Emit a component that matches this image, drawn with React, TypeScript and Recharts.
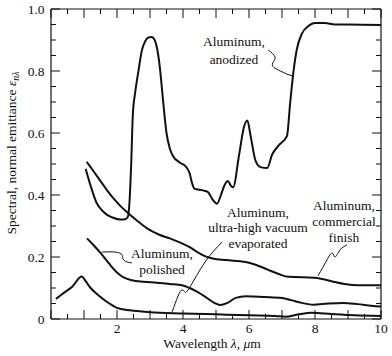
import { ComposedChart, Scatter, XAxis, YAxis } from "recharts";

type Pt = { x: number; y: number };
const pts = (rows: number[][]): Pt[] => rows.map(([x, y]) => ({ x, y }));

// spectral normal emittance (wavelength in um, emittance)
const anodized = pts([
  [1.05, 0.485], [1.2, 0.43], [1.38, 0.375], [1.55, 0.35], [1.7, 0.336], [1.9, 0.326],
  [2.1, 0.321], [2.25, 0.322], [2.33, 0.33], [2.38, 0.38], [2.43, 0.5], [2.48, 0.66],
  [2.55, 0.73], [2.65, 0.8], [2.75, 0.865], [2.85, 0.895], [2.95, 0.908], [3.05, 0.91],
  [3.15, 0.898], [3.22, 0.87], [3.3, 0.81], [3.4, 0.7], [3.5, 0.6], [3.6, 0.55],
  [3.7, 0.525], [3.9, 0.505], [4.1, 0.49], [4.2, 0.47], [4.27, 0.44], [4.35, 0.42],
  [4.6, 0.415], [4.75, 0.41], [4.9, 0.385], [5.03, 0.372], [5.15, 0.4], [5.25, 0.43],
  [5.36, 0.445], [5.45, 0.43], [5.52, 0.425], [5.7, 0.53], [5.85, 0.62], [5.95, 0.64],
  [6.05, 0.59], [6.2, 0.51], [6.35, 0.49], [6.55, 0.487], [6.7, 0.53], [6.9, 0.56],
  [7.15, 0.59], [7.25, 0.7], [7.35, 0.8], [7.45, 0.87], [7.6, 0.92], [7.8, 0.945],
  [8.0, 0.955], [8.3, 0.955], [8.6, 0.95], [9.0, 0.95], [10.0, 0.948],
]);

const commercial = pts([
  [1.08, 0.507], [1.3, 0.475], [1.5, 0.445], [1.7, 0.415], [1.9, 0.388], [2.1, 0.365],
  [2.3, 0.345], [2.6, 0.318], [2.9, 0.293], [3.3, 0.271], [3.6, 0.26], [3.9, 0.247],
  [4.2, 0.232], [4.45, 0.215], [4.7, 0.201], [4.9, 0.195], [5.3, 0.19], [5.9, 0.184],
  [6.2, 0.175], [6.55, 0.16], [6.9, 0.145], [7.2, 0.136], [7.6, 0.135], [8.05, 0.132],
  [8.5, 0.122], [8.9, 0.113], [9.3, 0.109], [10.0, 0.109],
]);

const polished = pts([
  [1.09, 0.26], [1.3, 0.237], [1.5, 0.213], [1.75, 0.18], [2.0, 0.15], [2.2, 0.134],
  [2.45, 0.125], [2.8, 0.12], [3.2, 0.117], [3.6, 0.113], [4.0, 0.108], [4.2, 0.1],
  [4.45, 0.087], [4.7, 0.07], [4.95, 0.052], [5.12, 0.045], [5.35, 0.052], [5.6, 0.068],
  [5.9, 0.073], [6.5, 0.071], [7.0, 0.068], [7.3, 0.06], [7.6, 0.052], [7.95, 0.046],
  [8.4, 0.05], [8.85, 0.052], [9.3, 0.048], [9.7, 0.043], [10.0, 0.04],
]);

const uhvEvaporated = pts([
  [0.15, 0.065], [0.4, 0.085], [0.65, 0.105], [0.93, 0.137], [1.05, 0.122], [1.2, 0.1],
  [1.4, 0.08], [1.7, 0.055], [2.0, 0.036], [2.4, 0.028], [3.0, 0.022], [4.0, 0.018],
  [5.0, 0.015], [6.0, 0.012], [6.8, 0.01], [7.1, 0.007], [7.5, 0.015], [7.9, 0.02],
  [8.5, 0.016], [9.2, 0.012], [10.0, 0.01],
]);

// leader lines from the labels to their curves
const anodizedLeader = pts([
  [6.58, 0.868], [6.79, 0.845], [6.72, 0.826], [6.75, 0.812], [6.95, 0.8], [7.15, 0.79], [7.33, 0.784],
]);
const polishedLeader = pts([
  [2.45, 0.181], [2.3, 0.184], [2.18, 0.194], [2.15, 0.208], [1.94, 0.216], [1.55, 0.216],
]);
const uhvLeader = pts([
  [5.18, 0.248], [4.67, 0.184], [4.21, 0.103], [4.06, 0.087], [3.97, 0.094], [3.85, 0.074], [3.67, 0.023],
]);
const commercialLeader = pts([
  [8.97, 0.239], [8.76, 0.223], [8.61, 0.2], [8.52, 0.213], [8.36, 0.19], [8.09, 0.139],
]);

const xTicks = [0, 0.5, 1, 1.5, 2, 2.5, 3, 3.5, 4, 4.5, 5, 5.5, 6, 6.5, 7, 7.5, 8, 8.5, 9, 9.5, 10];
const xMajor = [0, 1, 2, 3, 4, 5, 6, 7, 8, 9, 10];
const xLabels = [2, 4, 6, 8, 10];
const yTicks = [
  0, 0.05, 0.1, 0.15, 0.2, 0.25, 0.3, 0.35, 0.4, 0.45, 0.5,
  0.55, 0.6, 0.65, 0.7, 0.75, 0.8, 0.85, 0.9, 0.95, 1,
];
const yLabels = [0, 0.2, 0.4, 0.6, 0.8, 1];

const FONT = "'Liberation Serif', 'DejaVu Serif', serif";
const INK = "#111";
const near = (a: number[], v: number) => a.some((t) => Math.abs(t - v) < 1e-6);

const noDot = () => <g />;

function XTick(props: any) {
  const { x, y, payload, side } = props;
  const v = payload.value;
  const len = near(xMajor, v) ? 9 : 5;
  const dir = side === "top" ? 1 : -1;
  return (
    <g>
      <line x1={x} x2={x} y1={y} y2={y + dir * len} stroke={INK} strokeWidth={1} />
      {side === "bottom" && near(xLabels, v) && (
        <text x={x} y={y + 14} textAnchor="middle" fontSize={13.5} fontFamily={FONT} fill={INK}>
          {v}
        </text>
      )}
    </g>
  );
}

function YTick(props: any) {
  const { x, y, payload, side } = props;
  const v = payload.value;
  const isLabel = near(yLabels, v);
  const len = isLabel ? 9 : 5;
  const dir = side === "left" ? 1 : -1;
  return (
    <g>
      <line x1={x} x2={x + dir * len} y1={y} y2={y} stroke={INK} strokeWidth={1} />
      {side === "left" && isLabel && (
        <text x={x - 6.5} y={y + 4.5} textAnchor="end" fontSize={13.5} fontFamily={FONT} fill={INK}>
          {v === 0 ? "0" : v.toFixed(1)}
        </text>
      )}
    </g>
  );
}

const curve = (data: Pt[], key: string) => (
  <Scatter
    key={key}
    data={data}
    xAxisId="b"
    yAxisId="l"
    line={{ stroke: INK, strokeWidth: 2 }}
    lineJointType="monotoneX"
    shape={noDot}
    fill="none"
    legendType="none"
    isAnimationActive={false}
  />
);

const leader = (data: Pt[], key: string, xId = "b", yId = "l") => (
  <Scatter
    key={key}
    data={data}
    xAxisId={xId}
    yAxisId={yId}
    line={{ stroke: INK, strokeWidth: 1 }}
    lineJointType="natural"
    shape={noDot}
    fill="none"
    legendType="none"
    isAnimationActive={false}
  />
);

const textStyle = { fontFamily: FONT, fontSize: 13.5, fill: INK } as const;
const axisLine = { stroke: INK, strokeWidth: 1.2 };

export default function App() {
  return (
    <div style={{ position: "absolute", left: 0, top: 0, width: 392, height: 356, background: "#fff" }}>
      <ComposedChart width={392} height={356} margin={{ top: 0, right: 0, bottom: 0, left: 0 }}>
        <XAxis
          xAxisId="b"
          dataKey="x"
          type="number"
          domain={[0, 10]}
          allowDataOverflow
          ticks={xTicks}
          interval={0}
          height={37}
          tickSize={0}
          tickMargin={0}
          tickLine={false}
          axisLine={axisLine}
          tick={(p: any) => <XTick {...p} side="bottom" />}
        />
        <XAxis
          xAxisId="t"
          orientation="top"
          dataKey="x"
          type="number"
          domain={[0, 10]}
          allowDataOverflow
          ticks={xTicks}
          interval={0}
          height={9}
          tickSize={0}
          tickMargin={0}
          tickLine={false}
          axisLine={axisLine}
          tick={(p: any) => <XTick {...p} side="top" />}
        />
        <YAxis
          yAxisId="l"
          dataKey="y"
          type="number"
          domain={[0, 1]}
          allowDataOverflow
          ticks={yTicks}
          interval={0}
          width={51}
          tickSize={0}
          tickMargin={0}
          tickLine={false}
          axisLine={axisLine}
          tick={(p: any) => <YTick {...p} side="left" />}
        />
        <YAxis
          yAxisId="r"
          orientation="right"
          dataKey="y"
          type="number"
          domain={[0, 1]}
          allowDataOverflow
          ticks={yTicks}
          interval={0}
          width={11}
          tickSize={0}
          tickMargin={0}
          tickLine={false}
          axisLine={axisLine}
          tick={(p: any) => <YTick {...p} side="right" />}
        />
        {curve(anodized, "anodized")}
        {curve(commercial, "commercial")}
        {curve(polished, "polished")}
        {curve(uhvEvaporated, "uhv")}
        {leader(anodizedLeader, "la", "t", "r")}
        {leader(polishedLeader, "lp")}
        {leader(uhvLeader, "lu")}
        {leader(commercialLeader, "lc")}
      </ComposedChart>
      <svg
        width={392}
        height={356}
        style={{ position: "absolute", left: 0, top: 0, pointerEvents: "none" }}
      >
        <text x={234} y={46} textAnchor="middle" {...textStyle}>Aluminum,</text>
        <text x={234} y={64} textAnchor="middle" {...textStyle}>anodized</text>

        <text x={258} y={216.5} textAnchor="middle" {...textStyle}>Aluminum,</text>
        <text x={258} y={232} textAnchor="middle" {...textStyle}>ultra-high vacuum</text>
        <text x={258} y={247.5} textAnchor="middle" {...textStyle}>evaporated</text>

        <text x={344} y={210} textAnchor="middle" {...textStyle}>Aluminum,</text>
        <text x={344} y={226} textAnchor="middle" {...textStyle}>commercial</text>
        <text x={344} y={242} textAnchor="middle" {...textStyle}>finish</text>

        <text x={162} y={258} textAnchor="middle" {...textStyle}>Aluminum,</text>
        <text x={162} y={274} textAnchor="middle" {...textStyle}>polished</text>

        <text x={212} y={348} textAnchor="middle" {...textStyle}>
          Wavelength <tspan fontStyle="italic">λ</tspan>, <tspan fontStyle="italic">μ</tspan>m
        </text>
        <text x={0} y={0} textAnchor="middle" transform="translate(15.5 153) rotate(-90)" {...textStyle}>
          Spectral, normal emittance <tspan fontStyle="italic">ε</tspan>
          <tspan fontStyle="italic" fontSize={10} dy={3}>nλ</tspan>
        </text>
      </svg>
    </div>
  );
}
